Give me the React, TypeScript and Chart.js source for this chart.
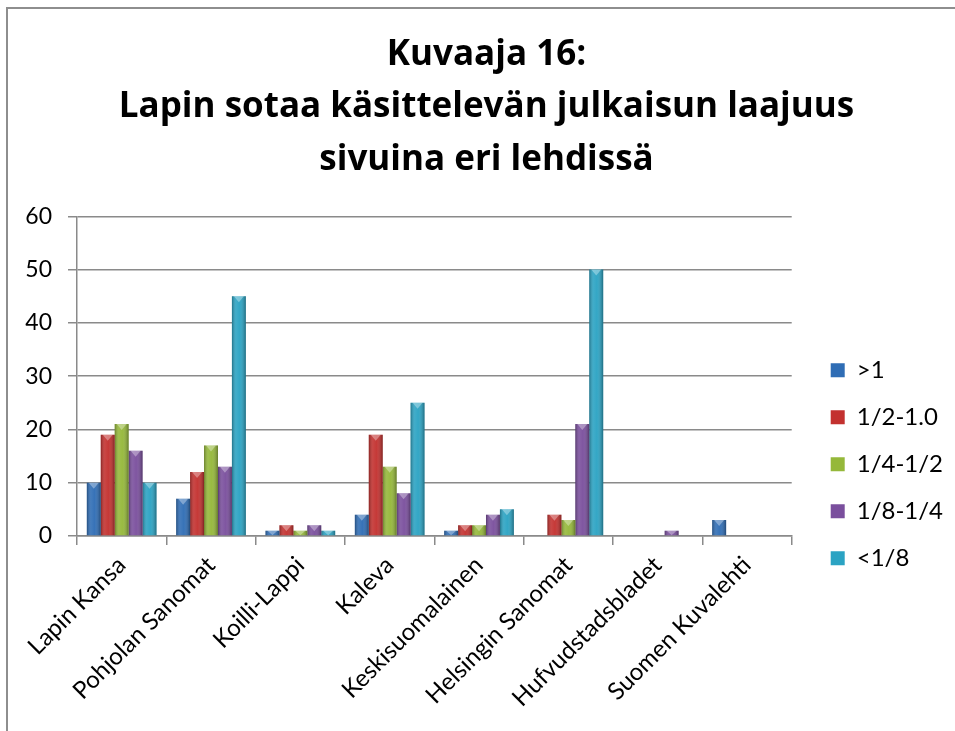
import React, { useEffect, useRef } from "react";
import { Chart, registerables } from "chart.js";

Chart.register(...registerables);

const categories = [
  "Lapin Kansa",
  "Pohjolan Sanomat",
  "Koilli-Lappi",
  "Kaleva",
  "Keskisuomalainen",
  "Helsingin Sanomat",
  "Hufvudstadsbladet",
  "Suomen Kuvalehti",
];
const seriesNames = [">1", "1/2-1.0", "1/4-1/2", "1/8-1/4", "<1/8"];
const over1 = [10, 7, 1, 4, 1, 0, 0, 3];
const halfToOne = [19, 12, 2, 19, 2, 4, 0, 0];
const quarterToHalf = [21, 17, 1, 13, 2, 3, 0, 0];
const eighthToQuarter = [16, 13, 2, 8, 4, 21, 1, 0];
const underEighth = [10, 45, 1, 25, 5, 50, 0, 0];
const seriesColors = ["#2f6db5", "#c3312f", "#95b83a", "#7a4f9d", "#2ba3c3"];
const yMin = 0;
const yMax = 60;
const yStep = 10;
const titleLines = [
  "Kuvaaja 16:",
  "Lapin sotaa käsittelevän julkaisun laajuus",
  "sivuina eri lehdissä",
];

const FONT = "Lato";
const TITLE_FONT = "Open Sans";
const GRID = "#8a8a8a";

const bevelPlugin = {
  id: "bevel",
  afterDatasetDraw(chart: any, args: any) {
    const ctx = chart.ctx;
    args.meta.data.forEach((bar: any) => {
      const { x, y, base, width } = bar.getProps(["x", "y", "base", "width"], true);
      const h = base - y;
      if (h <= 0.5) return;
      const left = x - width / 2;
      ctx.save();
      const g = ctx.createLinearGradient(left, 0, left + width, 0);
      g.addColorStop(0, "rgba(0,0,0,0.3)");
      g.addColorStop(0.3, "rgba(255,255,255,0.1)");
      g.addColorStop(0.55, "rgba(255,255,255,0.04)");
      g.addColorStop(1, "rgba(0,0,0,0.34)");
      ctx.fillStyle = g;
      ctx.fillRect(left, y, width, h);
      const capH = Math.min(6, h);
      ctx.beginPath();
      ctx.moveTo(left + 2, y);
      ctx.lineTo(left + width - 2, y);
      ctx.lineTo(x, y + capH);
      ctx.closePath();
      ctx.fillStyle = "rgba(255,255,255,0.35)";
      ctx.fill();
      ctx.restore();
    });
  },
};

export default function App() {
  const canvasRef = useRef<HTMLCanvasElement | null>(null);

  useEffect(() => {
    if (!canvasRef.current) return;
    const seriesData = [over1, halfToOne, quarterToHalf, eighthToQuarter, underEighth];
    const chart = new Chart(canvasRef.current, {
      type: "bar",
      data: {
        labels: categories,
        datasets: seriesNames.map((name, i) => ({
          label: name,
          data: seriesData[i],
          backgroundColor: seriesColors[i],
          borderWidth: 0,
          categoryPercentage: 0.78,
          barPercentage: 1,
        })),
      },
      plugins: [bevelPlugin],
      options: {
        responsive: false,
        animation: false,
        devicePixelRatio: 1,
        layout: { padding: { left: 20, right: 2, top: 0, bottom: 0 } },
        plugins: {
          tooltip: { enabled: false },
          title: {
            display: true,
            text: titleLines,
            color: "#000",
            font: { family: TITLE_FONT, size: 35, weight: "bold", lineHeight: "52.5px" },
            padding: { top: 28.75, bottom: 30 },
          },
          legend: {
            display: true,
            position: "right",
            align: "center",
            labels: {
              color: "#000",
              font: { family: FONT, size: 24 },
              boxWidth: 14,
              boxHeight: 14,
              padding: 23,
            },
            title: {
              display: true,
              text: " ",
              font: { family: FONT, size: 12, lineHeight: 1.2 },
              padding: { top: 183, bottom: 0 },
            },
          },
        },
        scales: {
          x: {
            grid: {
              display: true,
              drawOnChartArea: false,
              drawTicks: true,
              tickLength: 9,
              color: GRID,
              lineWidth: 1.5,
              offset: true,
            },
            border: { color: GRID, width: 1.5 },
            ticks: {
              color: "#000",
              font: { family: FONT, size: 24 },
              minRotation: 45,
              maxRotation: 45,
              autoSkip: false,
              padding: 6,
            },
            afterFit: (s: any) => {
              s.height = 195;
            },
          },
          y: {
            min: yMin,
            max: yMax,
            ticks: {
              stepSize: yStep,
              color: "#000",
              font: { family: FONT, size: 23 },
              padding: 16,
            },
            grid: { color: GRID, lineWidth: 1.5, tickLength: 9 },
            border: { color: GRID, width: 1.5 },
            afterFit: (s: any) => {
              s.width = 57;
            },
          },
          yR: {
            type: "linear",
            position: "right",
            display: true,
            grid: { display: false },
            ticks: { display: false },
            border: { display: false },
            afterFit: (s: any) => {
              s.width = 16;
            },
          },
        },
      },
    } as any);
    return () => chart.destroy();
  }, []);

  return (
    <div style={{ position: "absolute", left: 0, top: 0, width: 955, height: 731, background: "#fff" }}>
      <canvas ref={canvasRef} width={955} height={731} style={{ display: "block", width: 955, height: 731 }} />
      <div
        style={{
          position: "absolute",
          left: 6,
          top: 7,
          width: 960,
          height: 740,
          borderLeft: "2px solid #8e8e8e",
          borderTop: "2px solid #8e8e8e",
          pointerEvents: "none",
        }}
      />
    </div>
  );
}
